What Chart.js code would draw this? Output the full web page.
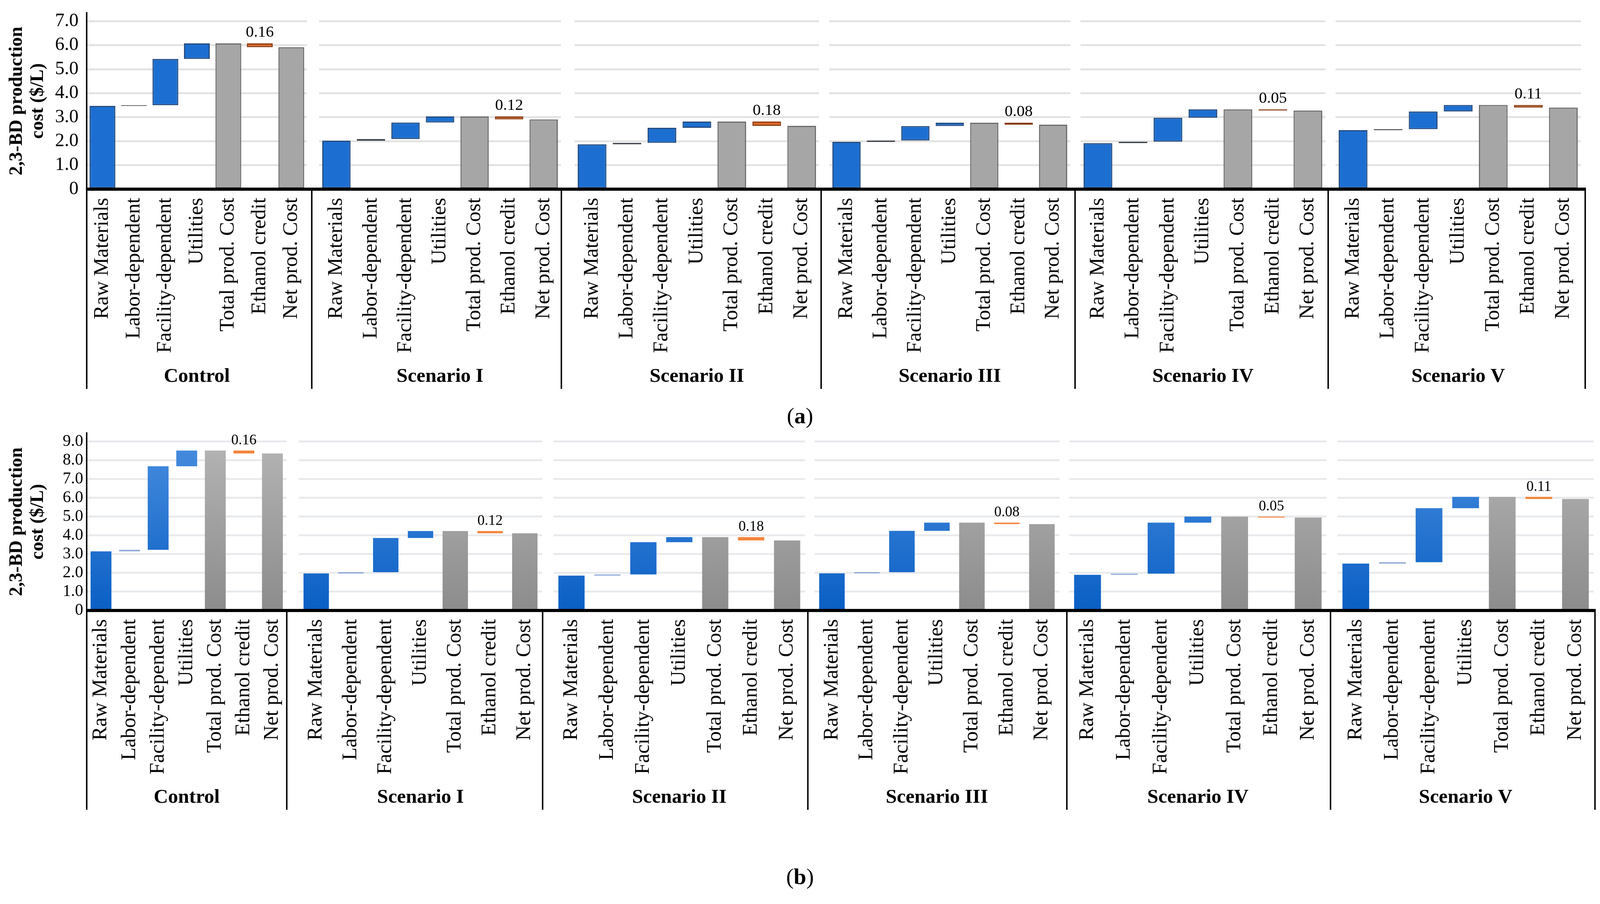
<!DOCTYPE html>
<html>
<head>
<meta charset="utf-8">
<script src="https://cdn.jsdelivr.net/npm/chart.js@4.4.1/dist/chart.umd.min.js"></script>
<style>
html,body{margin:0;padding:0;background:#fff;overflow:hidden;}
#stage{position:absolute;left:0;top:0;width:100vw;height:100vh;font-family:'Liberation Serif','Times New Roman',serif;background:#fff;}
.box{position:absolute;}
.plabel{position:absolute;line-height:1;transform:translate(-50%,-50%);color:#000;white-space:nowrap;}
</style>
</head>
<body>
<div id="stage"></div>
<script>
// ---------------- DATA ----------------
const categories = ['Raw Materials', 'Labor-dependent', 'Facility-dependent', 'Utilities', 'Total prod. Cost', 'Ethanol credit', 'Net prod. Cost'];
const scenarios = ['Control', 'Scenario I', 'Scenario II', 'Scenario III', 'Scenario IV', 'Scenario V'];

// Panel (a) cost components ($/L)
const rawMaterialsA = [3.47, 2.02, 1.87, 1.97, 1.92, 2.46];
const laborA        = [0.03, 0.07, 0.06, 0.06, 0.06, 0.04];
const facilityA     = [1.93, 0.69, 0.63, 0.60, 1.00, 0.74];
const utilitiesA    = [0.65, 0.25, 0.26, 0.14, 0.35, 0.27];
const ethanolCreditA = [0.16, 0.12, 0.18, 0.08, 0.05, 0.11];

// Panel (b) cost components ($/L)
const rawMaterialsB = [3.15, 1.97, 1.86, 1.98, 1.90, 2.50];
const laborB        = [0.08, 0.07, 0.06, 0.06, 0.06, 0.07];
const facilityB     = [4.45, 1.82, 1.72, 2.20, 2.72, 2.88];
const utilitiesB    = [0.84, 0.37, 0.27, 0.44, 0.32, 0.60];
const ethanolCreditB = [0.16, 0.12, 0.18, 0.08, 0.05, 0.11];

// Y-axis ticks
const yTicksA = [0, 1, 2, 3, 4, 5, 6, 7];
const yTickLabelsA = ['0', '1.0', '2.0', '3.0', '4.0', '5.0', '6.0', '7.0'];
const yTicksB = [0, 1, 2, 3, 4, 5, 6, 7, 8, 9];
const yTickLabelsB = ['0', '1.0', '2.0', '3.0', '4.0', '5.0', '6.0', '7.0', '8.0', '9.0'];
const yTitle = ['2,3-BD production', 'cost ($/L)'];
const panelLabels = ['a', 'b'];

// ---------------- LAYOUT / STYLE ----------------
const FONT = "'Liberation Serif', 'Times New Roman', serif";
const REF_W = 4380, REF_H = 2313;
const VW = window.innerWidth || REF_W, VH = window.innerHeight || REF_H;
const sx = VW / REF_W, sy = VH / REF_H, sf = Math.sqrt(sx * sy);
const X = (v) => Math.round(v * sx);
const Y = (v) => Math.round(v * sy);

const panels = [
  {
    data: {rm: rawMaterialsA, lab: laborA, fac: facilityA, util: utilitiesA, cred: ethanolCreditA},
    ticks: yTicksA, tickLabels: yTickLabelsA, yMax: 7.35,
    top: 0, height: 995, padTop: 33, axisH: 511,
    seps: [0, 855, 1539, 2250, 2945, 3638, 4342],
    plots: [[237, 841], [874, 1536], [1573, 2242], [2270, 2930], [2958, 3628], [3656, 4328]],
    yTickSize: 50, yTickPad: 22, valSize: 42, barPct: 0.82,
    gridColor: '#e3e3e3',
    style: 'flat',
    laborColors: ['#8a8a8a', '#2e3644', '#2e3644', '#2e3644', '#333a46', '#a3a3a3'],
    labelPos: [2190, 1064]
  },
  {
    data: {rm: rawMaterialsB, lab: laborB, fac: facilityB, util: utilitiesB, cred: ethanolCreditB},
    ticks: yTicksB, tickLabels: yTickLabelsB, yMax: 9.45,
    top: 1070, height: 1002, padTop: 38, axisH: 510,
    seps: [0, 787, 1487, 2214, 2923, 3644, 4368],
    plots: [[237, 785], [818, 1484], [1515, 2204], [2230, 2900], [2927, 3631], [3661, 4363]],
    yTickSize: 43, yTickPad: 10, valSize: 38, barPct: 0.73,
    gridColor: '#e8eaed',
    style: 'gradient',
    laborColors: ['#8faad8', '#8faad8', '#8faad8', '#8faad8', '#8faad8', '#8faad8'],
    labelPos: [2190, 2243]
  }
];

function waterfall(d, g) {
  const s1 = d.rm[g];
  const s2 = s1 + d.lab[g];
  const s3 = s2 + d.fac[g];
  const s4 = s3 + d.util[g];
  const net = s4 - d.cred[g];
  return [[0, s1], [s1, s2], [s2, s3], [s3, s4], [0, s4], [net, s4], [0, net]];
}

function vGrad(chart, cTop, cBottom) {
  const a = chart.chartArea;
  if (!a) return cBottom;
  const gr = chart.ctx.createLinearGradient(0, a.top, 0, a.bottom);
  gr.addColorStop(0, cTop);
  gr.addColorStop(1, cBottom);
  return gr;
}

const framePlugin = {
  id: 'frame',
  afterDraw(chart, args, opts) {
    const {ctx, chartArea} = chart;
    const W = chart.width, H = chart.height;
    const y = chartArea.bottom;
    const ah = opts.axisW, vw = opts.sepW;
    ctx.save();
    ctx.fillStyle = '#000';
    const x0 = opts.first ? chartArea.left - vw / 2 : 0;
    ctx.fillRect(x0, y - ah / 2, W - x0, ah);
    ctx.fillRect(W - vw, y, vw, H - y);
    if (opts.first) ctx.fillRect(chartArea.left - vw / 2, y, vw, H - y);
    ctx.restore();
  }
};

const creditLabelPlugin = {
  id: 'creditLabel',
  afterDatasetsDraw(chart, args, opts) {
    const meta = chart.getDatasetMeta(0);
    const el = meta.data[5];
    if (!el) return;
    const {ctx} = chart;
    ctx.save();
    ctx.font = opts.size + 'px ' + FONT;
    ctx.fillStyle = '#000';
    ctx.textAlign = 'center';
    ctx.textBaseline = 'bottom';
    ctx.fillText(opts.text, el.x, Math.min(el.y, el.base) - opts.gap);
    ctx.restore();
  }
};

const stage = document.getElementById('stage');

panels.forEach((P, pi) => {
  const lab = document.createElement('div');
  lab.className = 'plabel';
  lab.style.left = X(P.labelPos[0]) + 'px';
  lab.style.top = Y(P.labelPos[1]) + 'px';
  lab.style.fontSize = Math.round(60 * sf) + 'px';
  lab.innerHTML = '(<b>' + panelLabels[pi] + '</b>)';
  stage.appendChild(lab);

  scenarios.forEach((scen, g) => {
    const first = g === 0;
    const left = X(P.seps[g]);
    const width = X(P.seps[g + 1]) - left;
    const top = Y(P.top);
    const height = Y(P.top + P.height) - top;
    const padL = first ? 0 : X(P.plots[g][0]) - left;
    const padR = X(P.seps[g + 1]) - X(P.plots[g][1]);
    const yAxisW = X(237);
    const xAxisH = Math.round(P.axisH * sy);

    const box = document.createElement('div');
    box.className = 'box';
    box.style.left = left + 'px';
    box.style.top = top + 'px';
    box.style.width = width + 'px';
    box.style.height = height + 'px';
    const cv = document.createElement('canvas');
    box.appendChild(cv);
    stage.appendChild(box);

    const flat = P.style === 'flat';
    const laborColor = P.laborColors[g];

    const bg = (ctx) => {
      const i = ctx.dataIndex;
      const chart = ctx.chart;
      if (i === 1) return laborColor;
      if (i === 5) return flat ? '#e06a28' : '#f5843c';
      if (i === 4 || i === 6) return flat ? '#a6a6a6' : vGrad(chart, '#b6b6b6', '#8c8c8c');
      return flat ? '#1c6fd1' : vGrad(chart, '#4a8fe0', '#0a5fc4');
    };
    const bc = (ctx) => {
      const i = ctx.dataIndex;
      if (i === 1) return flat ? '#3a3f48' : laborColor;
      if (i === 5) return '#8a3c14';
      if (i === 4 || i === 6) return '#6c6c6c';
      return '#24497c';
    };

    new Chart(cv, {
      type: 'bar',
      data: {
        labels: categories,
        datasets: [{
          data: waterfall(P.data, g),
          backgroundColor: bg,
          borderColor: bc,
          borderWidth: flat ? 3 : 0,
          borderSkipped: false,
          categoryPercentage: 1.0,
          barPercentage: P.barPct
        }]
      },
      plugins: [framePlugin, creditLabelPlugin],
      options: {
        responsive: true,
        maintainAspectRatio: false,
        animation: false,
        events: [],
        layout: {padding: {top: Y(P.padTop), bottom: 0, left: padL, right: padR}},
        plugins: {
          legend: {display: false},
          tooltip: {enabled: false},
          frame: {first: first, axisW: 8 * sy, sepW: Math.max(3, 4 * sx)},
          creditLabel: {text: P.data.cred[g].toFixed(2), size: Math.round(P.valSize * sf), gap: 7 * sy}
        },
        scales: {
          x: {
            type: 'category',
            offset: true,
            grid: {display: false, drawTicks: false},
            border: {display: false},
            ticks: {
              autoSkip: false, minRotation: 90, maxRotation: 90, padding: Math.round(22 * sy),
              color: '#000', font: {family: FONT, size: Math.round(53 * sy)}
            },
            title: {
              display: true, text: scen, color: '#000', padding: 0,
              font: {family: FONT, size: Math.round(53 * sf), weight: 'bold', lineHeight: 1.2 * sy / sf}
            },
            afterFit(scale) {
              scale.height = xAxisH;
              scale.paddingLeft = 0;
              scale.paddingRight = 0;
            }
          },
          y: {
            type: 'linear',
            min: 0,
            max: P.yMax,
            afterBuildTicks(scale) {
              scale.ticks = P.ticks.map((v) => ({value: v}));
            },
            grid: {color: P.gridColor, lineWidth: 5 * sy, drawTicks: false},
            border: {display: first, color: '#000', width: Math.max(3, 4 * sx)},
            ticks: {
              display: first,
              autoSkip: false,
              padding: Math.round(P.yTickPad * sx),
              color: '#000',
              font: {family: FONT, size: Math.round(P.yTickSize * sf)},
              callback: (v) => P.tickLabels[P.ticks.indexOf(v)]
            },
            title: {
              display: first,
              text: yTitle,
              color: '#000',
              padding: {top: Math.round(18 * sx), bottom: 0},
              font: {family: FONT, size: Math.round(48 * sy), weight: 'bold', lineHeight: 1.2 * sx / sy}
            },
            afterFit(scale) {
              scale.width = first ? yAxisW : 0;
              scale.paddingTop = 0;
              scale.paddingBottom = 0;
            }
          }
        }
      }
    });
  });
});
</script>
</body>
</html>
